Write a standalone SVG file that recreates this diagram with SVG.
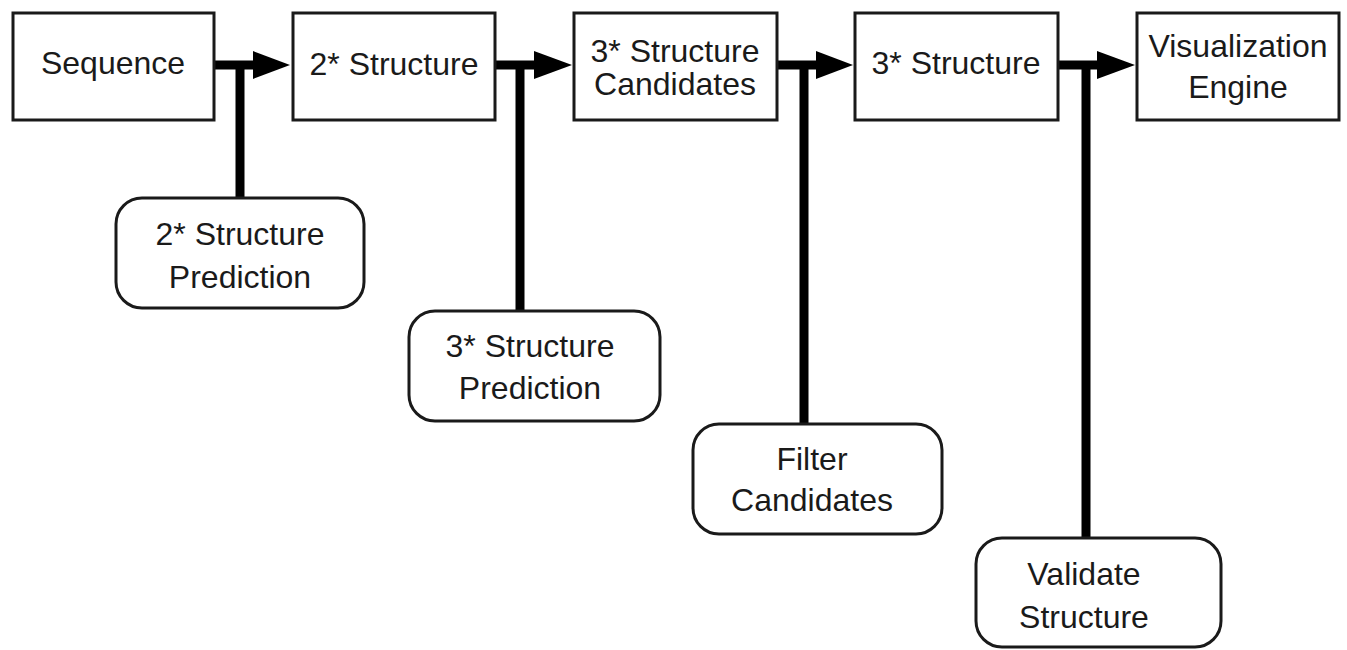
<svg xmlns="http://www.w3.org/2000/svg" width="1347" height="650" viewBox="0 0 1347 650">
<defs>
<style>
.box{fill:#fff;stroke:#1a1a1a;stroke-width:3}
.rbox{fill:#fff;stroke:#1a1a1a;stroke-width:3}
.t{font-family:"Liberation Sans",Arial,sans-serif;font-size:32px;fill:#1a1a1a;text-anchor:middle}
.c{stroke:#000;stroke-width:9;fill:none}
.h{fill:#000}
</style>
</defs>
<rect width="1347" height="650" fill="#fff"/>
<g id="connectors">
<line class="c" x1="214" y1="65" x2="256" y2="65"/>
<polygon class="h" points="253,51 290,65 253,79"/>
<line class="c" x1="240" y1="65" x2="240" y2="198"/>
<line class="c" x1="495" y1="65" x2="537" y2="65"/>
<polygon class="h" points="534,51 572,65 534,79"/>
<line class="c" x1="520" y1="65" x2="520" y2="311"/>
<line class="c" x1="777" y1="65" x2="819" y2="65"/>
<polygon class="h" points="816,51 853,65 816,79"/>
<line class="c" x1="804" y1="65" x2="804" y2="424"/>
<line class="c" x1="1058" y1="65" x2="1100" y2="65"/>
<polygon class="h" points="1097,51 1135,65 1097,79"/>
<line class="c" x1="1086" y1="65" x2="1086" y2="538"/>
</g>
<g id="sequence">
<rect class="box" x="13" y="13" width="201" height="107"/>
<text class="t" x="113" y="74">Sequence</text>
</g>
<g id="struct2">
<rect class="box" x="293" y="13" width="202" height="107"/>
<text class="t" x="394" y="75">2* Structure</text>
</g>
<g id="struct3cand">
<rect class="box" x="574" y="13" width="203" height="107"/>
<text class="t" x="675" y="62">3* Structure</text>
<text class="t" x="675" y="95">Candidates</text>
</g>
<g id="struct3">
<rect class="box" x="855" y="13" width="203" height="107"/>
<text class="t" x="956" y="74">3* Structure</text>
</g>
<g id="vis">
<rect class="box" x="1137" y="13" width="202" height="107"/>
<text class="t" x="1238" y="57">Visualization</text>
<text class="t" x="1238" y="98">Engine</text>
</g>
<g id="pred2">
<rect class="rbox" x="116" y="198" width="248" height="110" rx="26" ry="26"/>
<text class="t" x="240" y="245">2* Structure</text>
<text class="t" x="240" y="288">Prediction</text>
</g>
<g id="pred3">
<rect class="rbox" x="409" y="311" width="251" height="110" rx="26" ry="26"/>
<text class="t" x="530" y="357">3* Structure</text>
<text class="t" x="530" y="399">Prediction</text>
</g>
<g id="filter">
<rect class="rbox" x="693" y="424" width="249" height="110" rx="26" ry="26"/>
<text class="t" x="812" y="470">Filter</text>
<text class="t" x="812" y="511">Candidates</text>
</g>
<g id="validate">
<rect class="rbox" x="976" y="538" width="245" height="109" rx="26" ry="26"/>
<text class="t" x="1084" y="585">Validate</text>
<text class="t" x="1084" y="628">Structure</text>
</g>
</svg>
